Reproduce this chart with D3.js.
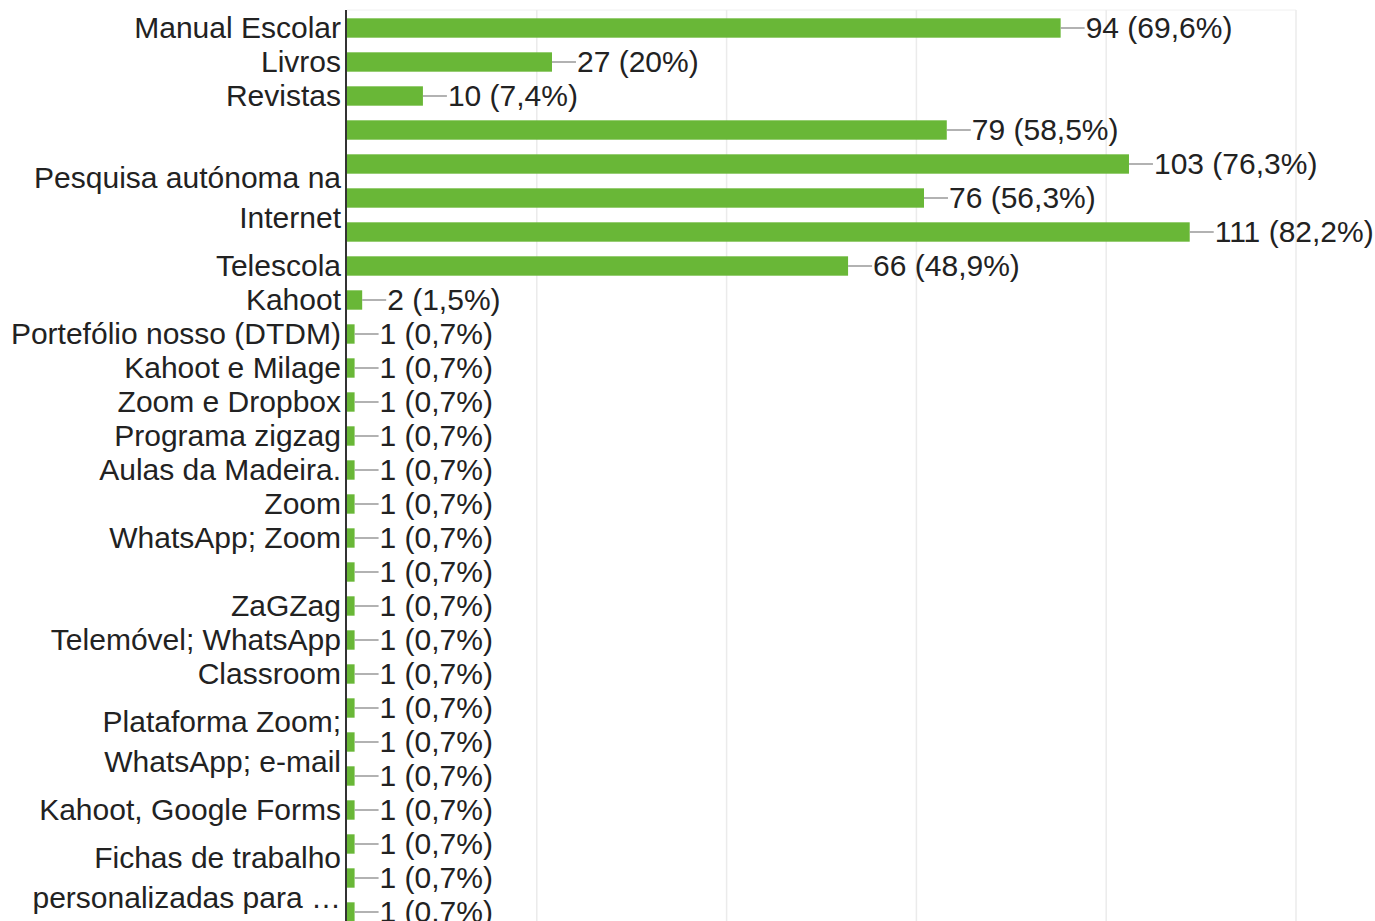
<!DOCTYPE html>
<html>
<head>
<meta charset="utf-8">
<script src="https://cdn.jsdelivr.net/npm/d3@7"></script>
<style>
  html, body { margin: 0; padding: 0; background: #fff; overflow: hidden; }
  svg { display: block; }
  text { font-family: "Liberation Sans", Arial, sans-serif; }
</style>
</head>
<body>
<svg id="chart" width="1375" height="921"></svg>
<script>
// Row labels (empty = label hidden in the original because of overlap); multi-line labels use "\n"
const categories = [
  "Manual Escolar", "Livros", "Revistas", "", "",
  "Pesquisa autónoma na\nInternet", "", "Telescola", "Kahoot",
  "Portefólio nosso (DTDM)", "Kahoot e Milage", "Zoom e Dropbox",
  "Programa zigzag", "Aulas da Madeira.", "Zoom", "WhatsApp; Zoom", "",
  "ZaGZag", "Telemóvel; WhatsApp", "Classroom", "",
  "Plataforma Zoom;\nWhatsApp; e-mail", "", "Kahoot, Google Forms", "",
  "Fichas de trabalho\npersonalizadas para …", ""
];
const values = [94, 27, 10, 79, 103, 76, 111, 66, 2, 1, 1, 1, 1, 1, 1, 1, 1, 1, 1, 1, 1, 1, 1, 1, 1, 1, 1];
const totalRespondents = 135;
const xTicks = [0, 25, 50, 75, 100, 125];

const svg = d3.select("#chart");
const mLeft = 347, mRight = 1296, mTop = 11, rowStep = 34;
const n = values.length;
const fs = 30;

const x = d3.scaleLinear().domain([0, 125]).range([mLeft, mRight]);
const y = d3.scaleBand()
  .domain(d3.range(n))
  .range([mTop, mTop + n * rowStep])
  .paddingInner(0.43)
  .paddingOuter(0.215);

// gridlines
svg.append("line")
  .attr("x1", mLeft).attr("x2", mRight).attr("y1", mTop - 1).attr("y2", mTop - 1)
  .attr("stroke", "#f0f0f0").attr("stroke-width", 1);
svg.append("g").selectAll("line").data(xTicks.slice(1)).join("line")
  .attr("x1", d => x(d)).attr("x2", d => x(d))
  .attr("y1", mTop - 1).attr("y2", 921)
  .attr("stroke", "#ebebeb").attr("stroke-width", 1.5);

const fmtPct = v => {
  const p = Math.round(v / totalRespondents * 1000) / 10;
  return String(p).replace(".", ",") + "%";
};

// bars
svg.append("g").selectAll("rect").data(values).join("rect")
  .attr("x", x(0))
  .attr("y", (d, i) => y(i))
  .attr("width", d => x(d) - x(0))
  .attr("height", y.bandwidth())
  .attr("fill", "#69b737");

// leader lines
svg.append("g").selectAll("line").data(values).join("line")
  .attr("x1", d => x(d)).attr("x2", d => x(d) + 24)
  .attr("y1", (d, i) => y(i) + y.bandwidth() / 2)
  .attr("y2", (d, i) => y(i) + y.bandwidth() / 2)
  .attr("stroke", "#999").attr("stroke-width", 1.5);

// value labels
svg.append("g").selectAll("text").data(values).join("text")
  .attr("x", d => x(d) + 25)
  .attr("y", (d, i) => y(i) + y.bandwidth() / 2)
  .attr("dy", "0.32em")
  .attr("font-size", fs)
  .attr("fill", "#222")
  .text(d => `${d} (${fmtPct(d)})`);

// category labels
const lab = svg.append("g");
categories.forEach((c, i) => {
  if (!c) return;
  const lines = c.split("\n");
  const cy = y(i) + y.bandwidth() / 2;
  const lh = 40;
  lines.forEach((ln, j) => {
    lab.append("text")
      .attr("x", mLeft - 6)
      .attr("y", cy + (j - (lines.length - 1) / 2) * lh)
      .attr("dy", "0.32em")
      .attr("text-anchor", "end")
      .attr("font-size", fs)
      .attr("fill", "#222")
      .text(ln);
  });
});

// axis line
svg.append("line")
  .attr("x1", mLeft - 1).attr("x2", mLeft - 1)
  .attr("y1", mTop - 1).attr("y2", 921)
  .attr("stroke", "#333").attr("stroke-width", 2);
</script>
</body>
</html>
